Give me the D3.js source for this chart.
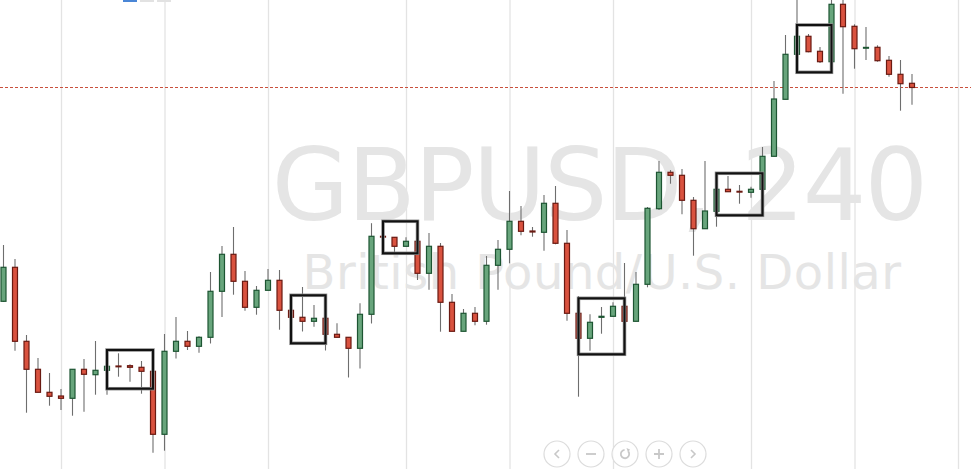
<!DOCTYPE html>
<html>
<head>
<meta charset="utf-8">
<script src="https://cdn.jsdelivr.net/npm/d3@7"></script>
<style>
  html, body { margin: 0; padding: 0; background: #ffffff; overflow: hidden; }
  svg { display: block; }
</style>
</head>
<body>
<svg id="chart" width="971" height="469"></svg>
<script>
// ---- Data (GBPUSD, 4h candles) ----
const symbolTitle = "GBPUSD, 240";
const symbolName = "British Pound/U.S. Dollar";

const opens = [1.29347,1.29687,1.28947,1.28667,1.28437,1.28400,1.28377,1.28667,1.28613,1.28657,
  1.28700,1.28703,1.28687,1.28647,1.28017,1.28847,1.28947,1.28897,1.28987,1.29447,
  1.29817,1.29547,1.29287,1.29457,1.29557,1.29257,1.29187,1.29147,1.29177,1.29017,
  1.28987,1.28877,1.29217,1.29997,1.29987,1.29897,1.29947,1.29627,1.29897,1.29337,
  1.29047,1.29227,1.29147,1.29707,1.29867,1.30147,1.30050,1.30037,1.30327,1.29927,
  1.29227,1.28977,1.29187,1.29197,1.29297,1.29147,1.29517,1.30273,1.30637,1.30607,
  1.30357,1.30073,1.30247,1.30467,1.30447,1.30437,1.30467,1.30797,1.31367,1.31817,
  1.31997,1.31847,1.31743,1.32317,1.32097,1.31880,1.31887,1.31757,1.31617,1.31527];
const highs = [1.29910,1.29770,1.29010,1.28780,1.28630,1.28470,1.28667,1.28770,1.28950,1.28760,
  1.28827,1.28717,1.28750,1.28650,1.29020,1.29190,1.29050,1.28997,1.29640,1.29900,
  1.30090,1.29650,1.29500,1.29670,1.29660,1.29260,1.29490,1.29310,1.29180,1.29128,
  1.28990,1.29328,1.30128,1.30090,1.29990,1.29987,1.29950,1.30030,1.29930,1.29420,
  1.29270,1.29290,1.29800,1.29960,1.30450,1.30300,1.30090,1.30410,1.30500,1.30060,
  1.29400,1.29217,1.29290,1.29337,1.29730,1.29640,1.30290,1.30750,1.30660,1.30670,
  1.30390,1.30750,1.30577,1.30600,1.30510,1.30493,1.30890,1.31550,1.32010,1.32380,
  1.32020,1.31890,1.32380,1.32380,1.32117,1.32090,1.31907,1.31800,1.31760,1.31620];
const lows = [1.29340,1.28853,1.28233,1.28437,1.28303,1.28260,1.28203,1.28243,1.28413,1.28413,
  1.28593,1.28543,1.28423,1.27833,1.27853,1.28775,1.28860,1.28833,1.28925,1.29190,
  1.29413,1.29253,1.29213,1.29457,1.29063,1.29187,1.29045,1.29093,1.28855,1.28987,
  1.28585,1.28675,1.29125,1.29927,1.29833,1.29897,1.29560,1.29463,1.29043,1.29047,
  1.29047,1.29107,1.29113,1.29463,1.29727,1.30007,1.29993,1.29853,1.29917,1.29153,
  1.28393,1.28853,1.29023,1.29197,1.29147,1.29147,1.29487,1.30260,1.30523,1.30217,
  1.29803,1.30073,1.30093,1.30443,1.30323,1.30383,1.30467,1.30797,1.31367,1.31817,
  1.31837,1.31730,1.31700,1.31423,1.31673,1.31760,1.31743,1.31593,1.31253,1.31313];
const closes = [1.29687,1.28947,1.28667,1.28437,1.28397,1.28377,1.28667,1.28617,1.28657,1.28697,
  1.28694,1.28687,1.28647,1.28017,1.28847,1.28947,1.28897,1.28987,1.29447,1.29817,
  1.29547,1.29287,1.29457,1.29557,1.29257,1.29187,1.29147,1.29177,1.29017,1.28987,
  1.28877,1.29217,1.29997,1.29990,1.29897,1.29947,1.29627,1.29897,1.29337,1.29047,
  1.29227,1.29147,1.29707,1.29867,1.30147,1.30047,1.30040,1.30327,1.29927,1.29227,
  1.28977,1.29137,1.29197,1.29297,1.29147,1.29517,1.30277,1.30637,1.30607,1.30357,
  1.30073,1.30250,1.30467,1.30443,1.30440,1.30467,1.30797,1.31370,1.31817,1.31997,
  1.31843,1.31743,1.32317,1.32093,1.31873,1.31886,1.31753,1.31617,1.31523,1.31485];

// pattern boxes (candle index ranges, price bounds)
const boxStart = [10, 26, 34, 51, 63, 70];
const boxEnd   = [14, 29, 37, 55, 67, 73];
const boxHigh  = [1.28860, 1.29407, 1.30147, 1.29377, 1.30627, 1.32110];
const boxLow   = [1.28473, 1.28927, 1.29827, 1.28817, 1.30207, 1.31637];

// grid ticks
const priceTicks = [1.3200, 1.3160, 1.3120, 1.3080, 1.3040, 1.3000, 1.2960, 1.2920, 1.2880, 1.2840, 1.2800];
const timeTicks = [6, 15, 24, 36, 45, 54, 66, 75, 84];

// ---- Drawing ----
const W = 971, H = 469;
const svg = d3.select("#chart");

const candles = opens.map((o, i) => ({ i: i + 1, o, h: highs[i], l: lows[i], c: closes[i] }));

const x = d3.scaleLinear().domain([6, 84]).range([61, 958]);
const y = d3.scaleLinear().domain([1.3236, 1.2767]).range([0, 469]);

// grid
const grid = svg.append("g").attr("class", "grid");
grid.append("g")
  .call(d3.axisLeft(y).tickValues(priceTicks).tickSize(-W).tickFormat(""))
  .attr("transform", `translate(${W},0)`)
  .call(g => g.select(".domain").remove())
  .call(g => g.selectAll("line").attr("stroke", "#e3e3e3").attr("stroke-width", 1.3));
grid.append("g")
  .call(d3.axisTop(x).tickValues(timeTicks).tickSize(-H).tickFormat(""))
  .call(g => g.select(".domain").remove())
  .call(g => g.selectAll("line").attr("stroke", "#e3e3e3").attr("stroke-width", 1.3));

// watermark
const wm = svg.append("g").attr("fill", "#e5e5e5").attr("font-family", "'DejaVu Sans', sans-serif").attr("text-anchor", "middle");
wm.append("text").attr("x", 599).attr("y", 220).attr("font-size", 100).attr("letter-spacing", -1.8).text(symbolTitle);
wm.append("text").attr("x", 602).attr("y", 289).attr("font-size", 48).attr("letter-spacing", 0.5).text(symbolName);

// top toolbar fragments
const tb = svg.append("g");
tb.append("rect").attr("x", 123).attr("y", 0).attr("width", 14).attr("height", 2).attr("fill", "#4a86d6");
tb.append("rect").attr("x", 140).attr("y", 0).attr("width", 14).attr("height", 2).attr("fill", "#e2e2e2");
tb.append("rect").attr("x", 157).attr("y", 0).attr("width", 14).attr("height", 2).attr("fill", "#e2e2e2");

// last price line
const lastY = Math.floor(y(closes[closes.length - 1])) + 0.5;
svg.append("line")
  .attr("x1", 0).attr("x2", W)
  .attr("y1", lastY).attr("y2", lastY)
  .attr("stroke", "#c9503d").attr("stroke-width", 1).attr("stroke-dasharray", "3,2");

// candles
const cg = svg.append("g").attr("class", "candles");
cg.selectAll("line.wick").data(candles).join("line")
  .attr("class", "wick")
  .attr("x1", d => x(d.i)).attr("x2", d => x(d.i))
  .attr("y1", d => y(d.h)).attr("y2", d => y(d.l))
  .attr("stroke", "#6e6e6e").attr("stroke-width", 1.1);

const bw = 5;
cg.selectAll("rect.body").data(candles).join("rect")
  .attr("class", "body")
  .attr("x", d => x(d.i) - bw / 2)
  .attr("width", bw)
  .attr("y", d => y(Math.max(d.o, d.c)))
  .attr("height", d => Math.max(0.8, Math.abs(y(d.o) - y(d.c))))
  .attr("fill", d => d.c >= d.o ? "#68a57c" : "#d9523f")
  .attr("stroke", d => d.c >= d.o ? "#1d5532" : "#6a1a12")
  .attr("stroke-width", 1.2);

// pattern boxes
const boxes = boxStart.map((s, k) => ({ s, e: boxEnd[k], hi: boxHigh[k], lo: boxLow[k] }));
const bg = svg.append("g").attr("class", "boxes").attr("fill", "none");
bg.selectAll("rect.halo").data(boxes).join("rect")
  .attr("class", "halo")
  .attr("x", d => x(d.s)).attr("y", d => y(d.hi))
  .attr("width", d => x(d.e) - x(d.s)).attr("height", d => y(d.lo) - y(d.hi))
  .attr("stroke", "#8a8a8a").attr("stroke-width", 3.5);
bg.selectAll("rect.frame").data(boxes).join("rect")
  .attr("class", "frame")
  .attr("x", d => x(d.s)).attr("y", d => y(d.hi))
  .attr("width", d => x(d.e) - x(d.s)).attr("height", d => y(d.lo) - y(d.hi))
  .attr("stroke", "#111111").attr("stroke-width", 2);

// navigation buttons
const navX = [557, 591, 625, 659, 693];
const nav = svg.append("g").attr("class", "nav");
const btn = nav.selectAll("g").data(navX).join("g").attr("transform", d => `translate(${d},454)`);
btn.append("circle").attr("r", 13).attr("fill", "rgba(255,255,255,0.85)").attr("stroke", "#dcdcdc").attr("stroke-width", 1.2);
const ic = "#c8c8c8";
btn.each(function(d, k) {
  const g = d3.select(this);
  if (k === 0) g.append("path").attr("d", "M2,-4 L-2,0 L2,4").attr("fill", "none").attr("stroke", ic).attr("stroke-width", 1.6);
  if (k === 1) g.append("path").attr("d", "M-5,0 L5,0").attr("stroke", ic).attr("stroke-width", 1.8);
  if (k === 2) {
    g.append("path").attr("d", d3.arc()({ innerRadius: 4.2, outerRadius: 4.2, startAngle: 0.9, endAngle: 2 * Math.PI - 0.1 }))
      .attr("fill", "none").attr("stroke", ic).attr("stroke-width", 1.8);
    g.append("path").attr("d", "M1.5,-6 L5,-4.5 L3,-1.5 Z").attr("fill", ic);
  }
  if (k === 3) g.append("path").attr("d", "M-5,0 L5,0 M0,-5 L0,5").attr("stroke", ic).attr("stroke-width", 1.8);
  if (k === 4) g.append("path").attr("d", "M-2,-4 L2,0 L-2,4").attr("fill", "none").attr("stroke", ic).attr("stroke-width", 1.6);
});
</script>
</body>
</html>
